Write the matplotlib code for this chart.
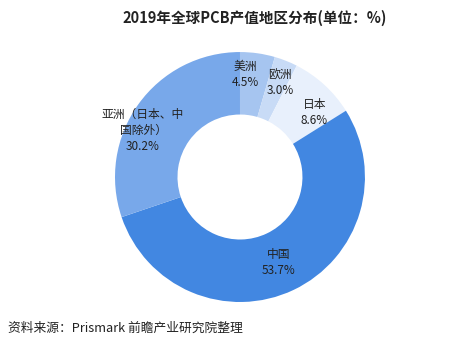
import numpy as np
import matplotlib
matplotlib.use("Agg")
import matplotlib.pyplot as plt

plt.rcParams['font.family'] = ['Noto Sans CJK SC', 'DejaVu Sans']

regions = ["美洲", "欧洲", "日本", "中国", "亚洲（日本、中\n国除外）"]
shares = [4.5, 3.0, 8.6, 53.7, 30.2]
colors = ["#a6c5f0", "#c8dbf6", "#e8f0fc", "#4287e1", "#78a8ea"]
title = "2019年全球PCB产值地区分布(单位：%)"
source = "资料来源：Prismark 前瞻产业研究院整理"

fig = plt.figure(figsize=(4.77, 3.63), dpi=100)
ax = fig.add_axes([0.2411, 0.168, 0.524, 0.6887])
wedges, _ = ax.pie(shares, colors=colors, startangle=90, counterclock=False,
                   radius=1.0, wedgeprops=dict(width=0.5, edgecolor='none'))
ax.set_xlim(-1, 1)
ax.set_ylim(-1, 1)
ax.set_aspect('equal')
ax.axis('off')

# label placement tweaks (radius fraction, angle offset in degrees)
lab_r = [0.82, 0.82, 0.79, 0.75, 0.86]
lab_da = [5, -1.5, -6.5, -1.3, 10]
for w, name, val, r, da in zip(wedges, regions, shares, lab_r, lab_da):
    ang = np.deg2rad((w.theta1 + w.theta2) / 2 + da)
    x, y = r * np.cos(ang), r * np.sin(ang)
    ax.text(x, y, f"{name}\n{val:.1f}%", ha='center', va='center',
            fontsize=8.5, color='#222222', linespacing=1.3)

fig.text(0.534, 0.95, title, ha='center', va='center', fontsize=10.5,
         fontweight='bold', color='#222222')
fig.text(0.017, 0.097, source, ha='left', va='center', fontsize=9.2, color='#222222')

fig.savefig("out.png", dpi=100)
